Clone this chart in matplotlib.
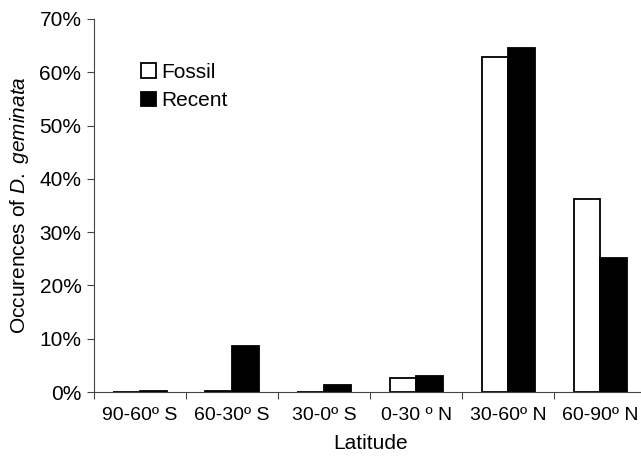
import matplotlib.pyplot as plt
import numpy as np
from matplotlib.ticker import PercentFormatter

# Data (percent of occurrences)
categories = ["90-60º S", "60-30º S", "30-0º S", "0-30 º N", "30-60º N", "60-90º N"]
fossil = [0.0, 0.1, 0.0, 2.6, 62.8, 36.2]
recent = [0.1, 8.6, 1.3, 3.0, 64.5, 25.1]

plt.rcParams.update({
    "font.family": "Liberation Sans",
    "font.size": 15,
    "mathtext.fontset": "custom",
    "mathtext.it": "Liberation Sans:italic",
    "mathtext.rm": "Liberation Sans",
})

fig = plt.figure(figsize=(6.41, 4.62), dpi=100)
ax = fig.add_axes([0.1466, 0.1515, 0.862, 0.8074])

x = np.arange(len(categories)) + 0.5
w = 0.29
ax.bar(x - w / 2, fossil, width=w, color="white", edgecolor="black", linewidth=1.3, label="Fossil")
ax.bar(x + w / 2, recent, width=w, color="black", edgecolor="black", linewidth=1.3, label="Recent")

ax.set_xlim(0, 6)
ax.set_ylim(0, 70)
ax.set_yticks(np.arange(0, 71, 10))
ax.yaxis.set_major_formatter(PercentFormatter(decimals=0))

# boundaries get ticks, centres get labels
ax.set_xticks(np.arange(0, 7))
ax.set_xticklabels([])
ax.set_xticks(x, minor=True)
ax.set_xticklabels(categories, minor=True, fontsize=14)
ax.tick_params(axis="x", which="minor", length=0, pad=11)
ax.tick_params(axis="x", which="major", length=5, direction="out", color="#444444")
ax.tick_params(axis="y", length=5, direction="out", color="#444444", pad=4)

for s in ["top", "right"]:
    ax.spines[s].set_visible(False)
ax.spines["left"].set_color("#444444")
ax.spines["bottom"].set_color("#444444")

ax.set_xlabel("Latitude", labelpad=7)
ax.set_ylabel(r"Occurences of $\mathit{D.\ geminata}$", labelpad=6)

ax.legend(loc="upper left", bbox_to_anchor=(0.07, 0.905), frameon=False,
          handlelength=0.7, handleheight=0.7, handletextpad=0.25,
          labelspacing=0.45, borderaxespad=0)

plt.savefig("out.png", dpi=100)
